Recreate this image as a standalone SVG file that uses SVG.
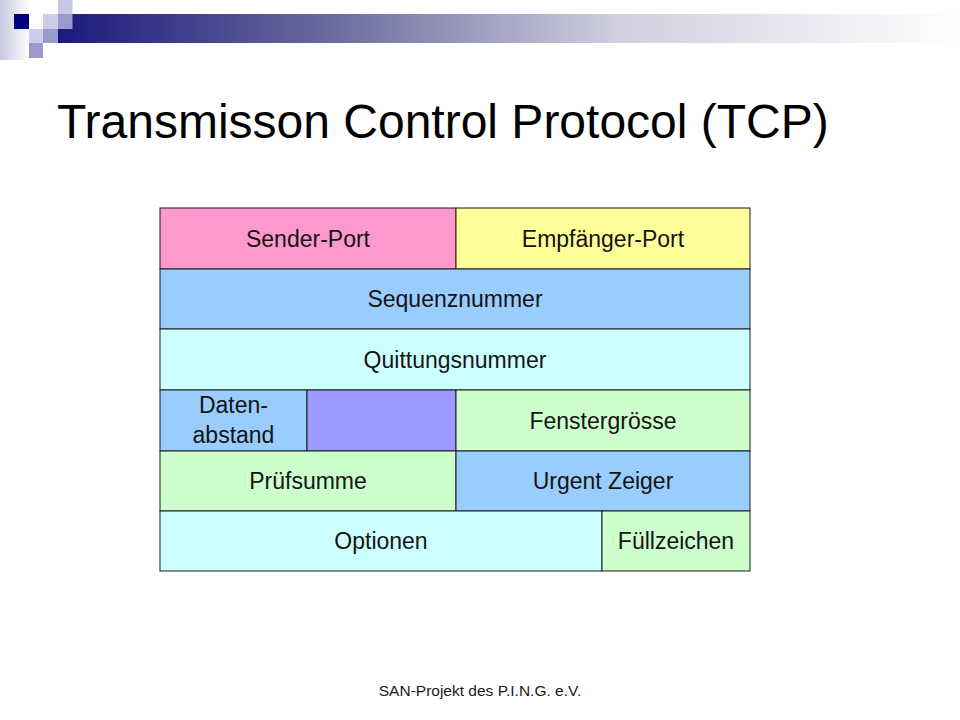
<svg xmlns="http://www.w3.org/2000/svg" width="960" height="720" viewBox="0 0 960 720">
<defs>
<linearGradient id="bar" x1="0" y1="0" x2="1" y2="0">
<stop offset="0" stop-color="#1a1a7e"/>
<stop offset="0.3" stop-color="#6a6a9e"/>
<stop offset="0.62" stop-color="#cfcfe0"/>
<stop offset="1" stop-color="#ffffff"/>
</linearGradient>
<linearGradient id="strip" x1="0" y1="0" x2="1" y2="0">
<stop offset="0" stop-color="#c8c8e2"/>
<stop offset="1" stop-color="#ffffff"/>
</linearGradient>
</defs>
<style>
.cell{stroke:#1a1a1a;stroke-width:1}
.lbl{font-family:"Liberation Sans",Arial,sans-serif;font-size:23px;fill:#141414;text-anchor:middle}
</style>
<rect width="960" height="720" fill="#ffffff"/>
<g id="decoration">
<rect x="0" y="0" width="30" height="60" fill="url(#strip)"/>
<rect x="58" y="14" width="902" height="29" fill="url(#bar)"/>
<rect x="58" y="0" width="14.5" height="14" fill="#c8c8e2"/>
<rect x="14" y="14" width="15" height="15" fill="#00007e"/>
<rect x="43" y="14" width="15" height="15" fill="#ccccea"/>
<rect x="58" y="14" width="14.5" height="15" fill="#9999cc"/>
<rect x="29" y="29" width="14" height="14" fill="#ccccea"/>
<rect x="43" y="29" width="15" height="14" fill="#9999cc"/>
<rect x="29" y="43" width="14" height="15" fill="#9999cc"/>
</g>
<text id="title" x="57" y="138" font-family="'Liberation Sans',Arial,sans-serif" font-size="48" fill="#000000">Transmisson Control Protocol (TCP)</text>
<g id="tcp-header">
<g id="sender-port"><rect class="cell" x="160" y="208" width="296" height="61" fill="#ff99cc"/><text class="lbl" x="308" y="246.5">Sender-Port</text></g>
<g id="empfaenger-port"><rect class="cell" x="456" y="208" width="294" height="61" fill="#ffff99"/><text class="lbl" x="603" y="246.5">Empfänger-Port</text></g>
<g id="sequenznummer"><rect class="cell" x="160" y="269" width="590" height="60" fill="#99ccff"/><text class="lbl" x="455" y="307">Sequenznummer</text></g>
<g id="quittungsnummer"><rect class="cell" x="160" y="329" width="590" height="61" fill="#ccffff"/><text class="lbl" x="455" y="367.5">Quittungsnummer</text></g>
<g id="datenabstand"><rect class="cell" x="160" y="390" width="147" height="61" fill="#99ccff"/><text class="lbl" x="233.5" y="413">Daten-</text><text class="lbl" x="233.5" y="442.5">abstand</text></g>
<g id="reserviert"><rect class="cell" x="307" y="390" width="149" height="61" fill="#9999ff"/></g>
<g id="fenstergroesse"><rect class="cell" x="456" y="390" width="294" height="61" fill="#ccffcc"/><text class="lbl" x="603" y="428.5">Fenstergrösse</text></g>
<g id="pruefsumme"><rect class="cell" x="160" y="451" width="296" height="60" fill="#ccffcc"/><text class="lbl" x="308" y="489">Prüfsumme</text></g>
<g id="urgent-zeiger"><rect class="cell" x="456" y="451" width="294" height="60" fill="#99ccff"/><text class="lbl" x="603" y="489">Urgent Zeiger</text></g>
<g id="optionen"><rect class="cell" x="160" y="511" width="442" height="60" fill="#ccffff"/><text class="lbl" x="381" y="549">Optionen</text></g>
<g id="fuellzeichen"><rect class="cell" x="602" y="511" width="148" height="60" fill="#ccffcc"/><text class="lbl" x="676" y="549">Füllzeichen</text></g>
</g>
<g id="connectors"></g>
<text id="footer" x="480" y="696" font-family="'Liberation Sans',Arial,sans-serif" font-size="15.5" fill="#1a1a1a" text-anchor="middle">SAN-Projekt des P.I.N.G. e.V.</text>
</svg>
